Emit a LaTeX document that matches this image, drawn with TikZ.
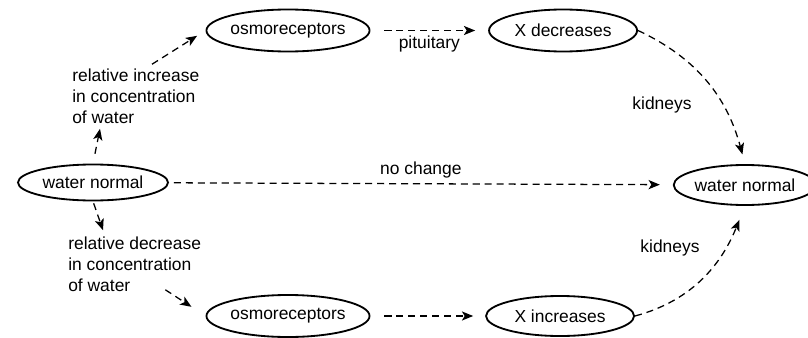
\documentclass[tikz,border=0pt]{standalone}
\usepackage{fontspec}
\setmainfont{Liberation Sans}
\usetikzlibrary{
  shapes.geometric,
  positioning,
  arrows.meta
}
\tikzset{
  >={Stealth[length=8pt, width=6.5pt, inset=2pt]},
  blob/.style={ellipse, draw, line width=1.3pt, minimum width=3.75cm, minimum height=1.05cm, inner sep=0pt},
  flow/.style={->, dash pattern=on 5pt off 3.5pt, line width=0.9pt},
  note/.style={align=left, inner sep=0pt}
}

\begin{document}
\begin{tikzpicture}[x=0.025cm, y=0.025cm, font=\fontsize{12.4}{15}\selectfont]
    \useasboundingbox (0,0) rectangle (808,337);
    \node[blob, minimum height=0.9cm] (wnL) at (93,154.5) {water normal};
    \node[blob] (osmoT) at (288,306.5) {osmoreceptors};
    \node[blob, right of=osmoT, node distance=6.875cm, minimum width=3.7cm] (xdec) {X decreases};
    \node[blob, minimum width=3.5cm, minimum height=1cm] (wnR) at (745,152) {water normal};
    \node[blob] (osmoB) at (288,21) {osmoreceptors};
    \node[blob, right of=osmoB, node distance=6.8cm, minimum width=3.7cm, minimum height=1cm] (xinc) {X increases};
    \node[note, anchor=west] (incText) at (72,241) {relative increase\\in concentration\\of water};
    \node[note, anchor=west] (decText) at (68,73) {relative decrease\\in concentration\\of water};
    \node (kidT) at (662,232) {kidneys};
    \node (kidB) at (670,89) {kidneys};
    % upper branch
    \draw[flow, shorten <=0.25cm] (wnL.north) -- ([xshift=0.7cm, yshift=-0.125cm]incText.south west);
    \draw[flow, shorten >=0.25cm] ([xshift=2cm, yshift=0.1cm]incText.north west) -- (osmoT.west);
    \draw[flow, shorten <=0.35cm, shorten >=0.325cm] (osmoT) -- node[below]{pituitary} (xdec);
    \draw[flow, shorten >=0.25cm] (xdec.east) to[out=-25, in=105] (wnR.north);
    % no change
    \draw[flow, shorten <=0.125cm, shorten >=0.325cm] (wnL) -- node[above]{no change} (wnR);
    % lower branch
    \draw[flow, shorten <=0.05cm] (wnL.south) -- ([xshift=0.875cm, yshift=0.15cm]decText.north west);
    \draw[flow, shorten >=0.42cm] ([xshift=-0.9cm, yshift=0.05cm]decText.south east) -- (osmoB.west);
    \draw[flow, shorten <=0.35cm, shorten >=0.3cm] (osmoB) -- (xinc);
    \draw[flow, shorten >=0.375cm] (xinc.east) to[out=15, in=-112] (wnR.south);
\end{tikzpicture}
\end{document}
